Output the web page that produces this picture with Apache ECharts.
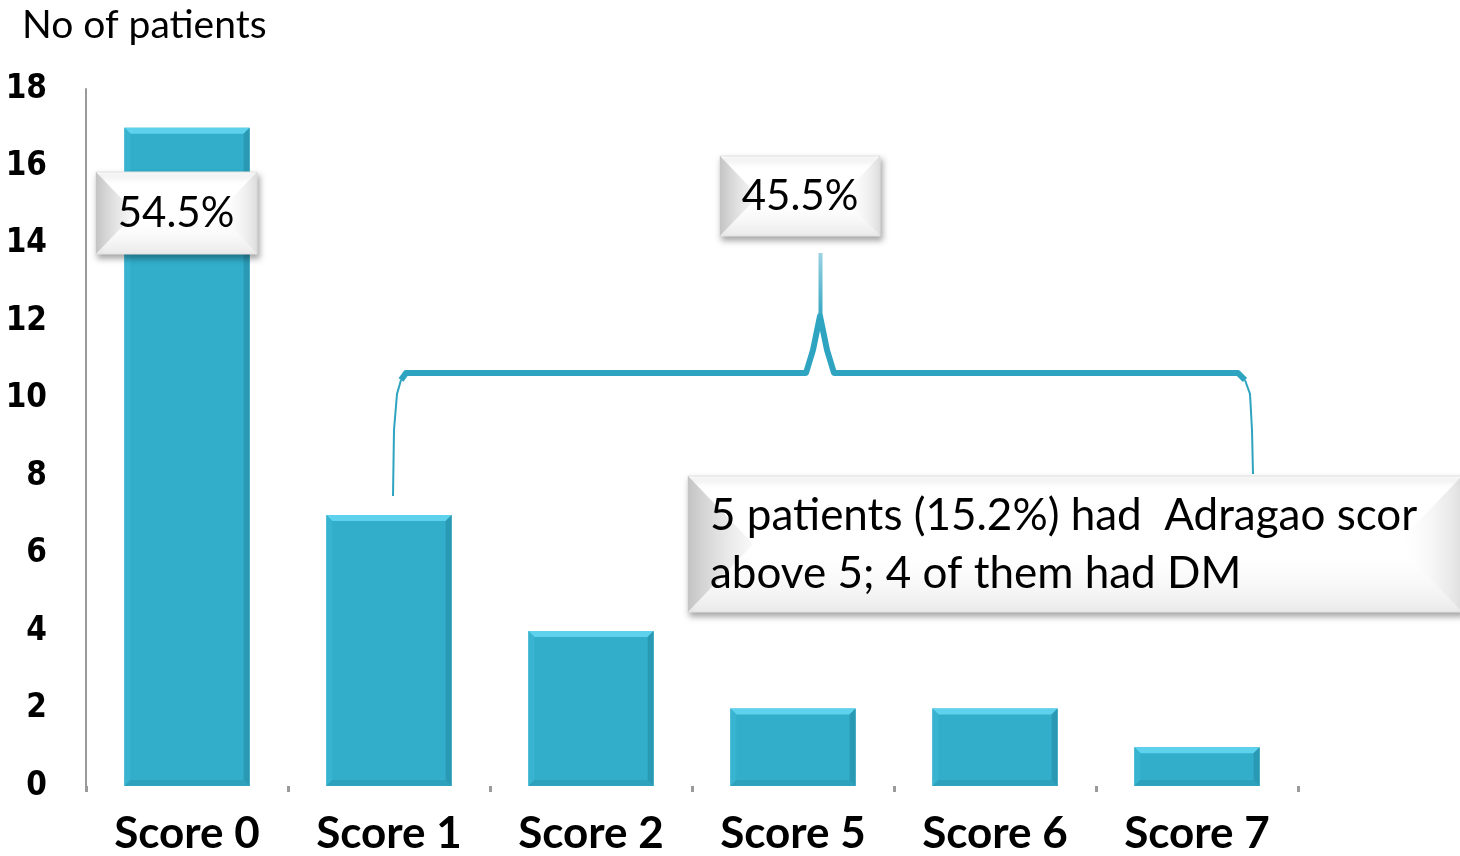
<!DOCTYPE html>
<html>
<head>
<meta charset="utf-8">
<title>Adragao score distribution</title>
<script src="https://cdn.jsdelivr.net/npm/echarts@6/dist/echarts.min.js"></script>
<style>
  html, body { margin: 0; padding: 0; background: #ffffff; }
  #chart { width: 1460px; height: 856px; }
</style>
</head>
<body>
<div id="chart"></div>
<script>
// Adragao vascular calcification score: number of patients per score
const categories = ['Score 0', 'Score 1', 'Score 2', 'Score 5', 'Score 6', 'Score 7'];
const patients = [17, 7, 4, 2, 2, 1];
const yTicks = { min: 0, max: 18, interval: 2 };
const axisTitle = 'No of patients';
const shareScore0 = '54.5%';
const shareAbove0 = '45.5%';
const noteLines = ['5 patients (15.2%) had  Adragao scor', 'above 5; 4 of them had DM'];

const BAR = '#32aecb';
const BRACE = '#2ea4c1';
const textFont = 'Lato, "Open Sans", "Noto Sans", sans-serif';

// Bevelled bar drawn on the category/value scales
function renderBar(params, api) {
  const i = api.value(0);
  const v = api.value(1);
  const top = api.coord([i, v]);
  const base = api.coord([i, 0]);
  const w = api.size([1, 0])[0] * 0.62;
  const x = top[0] - w / 2;
  const y = top[1];
  const h = base[1] - top[1];
  const b = Math.min(6, h / 3);
  return {
    type: 'group',
    children: [
      { type: 'rect', shape: { x, y, width: w, height: h }, style: { fill: BAR } },
      { type: 'polygon', shape: { points: [[x, y], [x + w, y], [x + w - b, y + b], [x + b, y + b]] },
        style: { fill: '#5ed1ed' } },
      { type: 'polygon', shape: { points: [[x, y], [x + b, y + b], [x + b, y + h - b], [x, y + h]] },
        style: { fill: '#38b4d1' } },
      { type: 'polygon', shape: { points: [[x + w, y], [x + w, y + h], [x + w - b, y + h - b], [x + w - b, y + b]] },
        style: { fill: '#2a99b3' } },
      { type: 'polygon', shape: { points: [[x, y + h], [x + b, y + h - b], [x + w - b, y + h - b], [x + w, y + h]] },
        style: { fill: '#2ea2bd' } }
    ]
  };
}

// Pillow-style callout box with a shaded left bevel
function calloutBox(x, y, w, h, z) {
  const d = h * 0.48;
  return [
    { type: 'rect', z: z, shape: { x, y, width: w, height: h },
      style: { fill: '#ffffff', stroke: '#e2e2e2', lineWidth: 1,
               shadowBlur: 6, shadowColor: 'rgba(0,0,0,0.35)', shadowOffsetX: 2, shadowOffsetY: 4 } },
    { type: 'polygon', z: z + 1, shape: { points: [[x, y], [x + d, y + h / 2], [x, y + h]] },
      style: { fill: new echarts.graphic.LinearGradient(0, 0, 1, 0, [
        { offset: 0, color: '#c4c4c4' }, { offset: 1, color: 'rgba(245,245,245,0.6)' }]) } },
    { type: 'polygon', z: z + 1, shape: { points: [[x, y + h], [x + d, y + h / 2], [x + w - d, y + h / 2], [x + w, y + h]] },
      style: { fill: new echarts.graphic.LinearGradient(0, 0, 0, 1, [
        { offset: 0, color: 'rgba(255,255,255,0)' }, { offset: 1, color: 'rgba(225,225,225,0.7)' }]) } },
    { type: 'polygon', z: z + 1, shape: { points: [[x + w, y], [x + w - d, y + h / 2], [x + w, y + h]] },
      style: { fill: new echarts.graphic.LinearGradient(1, 0, 0, 0, [
        { offset: 0, color: 'rgba(215,215,215,0.8)' }, { offset: 1, color: 'rgba(255,255,255,0)' }]) } }
  ];
}

const chart = echarts.init(document.getElementById('chart'), null, { renderer: 'canvas' });

const graphics = [
  // y-axis title
  { type: 'text', left: 22, top: 6, z: 50,
    style: { text: axisTitle, font: '39px ' + textFont, fill: '#000000' } },

  // brace grouping Score 1 .. Score 7
  { type: 'polyline', z: 40,
    shape: { points: [[401, 380], [406, 373], [806, 373], [813, 350], [820, 316], [827, 350], [834, 373], [1238, 373], [1245, 380]] },
    style: { stroke: BRACE, lineWidth: 6, fill: null, lineJoin: 'round' } },
  { type: 'polyline', z: 40,
    shape: { points: [[401, 380], [397, 394], [394, 430], [393, 496]] },
    style: { stroke: BRACE, lineWidth: 2, fill: null } },
  { type: 'polyline', z: 40,
    shape: { points: [[1245, 380], [1250, 394], [1252, 430], [1253, 474]] },
    style: { stroke: BRACE, lineWidth: 2, fill: null } },
  { type: 'line', z: 40,
    shape: { x1: 820.5, y1: 318, x2: 820.5, y2: 253 },
    style: { lineWidth: 4, stroke: new echarts.graphic.LinearGradient(0, 1, 0, 0, [
      { offset: 0, color: BRACE }, { offset: 1, color: '#9fd4e3' }]) } },

  // 54.5% callout over the Score 0 bar
  ...calloutBox(96, 172, 161, 82, 60),
  { type: 'text', z: 70, x: 176, y: 213,
    style: { text: shareScore0, font: '42px ' + textFont, fill: '#000000', align: 'center', verticalAlign: 'middle' } },

  // 45.5% callout above the brace
  ...calloutBox(720, 156, 160, 80, 60),
  { type: 'text', z: 70, x: 800, y: 196,
    style: { text: shareAbove0, font: '42px ' + textFont, fill: '#000000', align: 'center', verticalAlign: 'middle' } },

  // note box
  ...calloutBox(688, 476, 774, 136, 60),
  { type: 'text', z: 70, x: 710, y: 516,
    style: { text: noteLines[0], font: '44px ' + textFont, fill: '#000000', align: 'left', verticalAlign: 'middle' } },
  { type: 'text', z: 70, x: 710, y: 574,
    style: { text: noteLines[1], font: '44px ' + textFont, fill: '#000000', align: 'left', verticalAlign: 'middle' } }
];

chart.setOption({
  animation: false,
  backgroundColor: '#ffffff',
  grid: { left: 86, right: 162, top: 89, bottom: 67, containLabel: false },
  xAxis: {
    type: 'category',
    data: categories,
    boundaryGap: true,
    axisLine: { show: false },
    axisTick: { show: true, length: 6, lineStyle: { color: '#9a9a9a', width: 3 } },
    axisLabel: {
      margin: 26,
      color: '#000000',
      fontFamily: textFont,
      fontWeight: 'bold',
      fontSize: 44,
      lineHeight: 44
    },
    splitLine: { show: false }
  },
  yAxis: {
    type: 'value',
    min: yTicks.min,
    max: yTicks.max,
    interval: yTicks.interval,
    axisLine: { show: true, lineStyle: { color: '#9a9a9a', width: 2 } },
    axisTick: { show: false },
    splitLine: { show: false },
    axisLabel: {
      margin: 39,
      color: '#000000',
      fontFamily: '"Liberation Sans Narrow", "DejaVu Sans Condensed", "Liberation Sans", sans-serif',
      fontWeight: 'bold',
      fontSize: 33,
      padding: [0, 0, 12, 0]
    }
  },
  series: [{
    type: 'custom',
    renderItem: renderBar,
    encode: { x: 0, y: 1 },
    data: patients.map((v, i) => [i, v]),
    z: 2
  }],
  graphic: graphics
});
</script>
</body>
</html>
